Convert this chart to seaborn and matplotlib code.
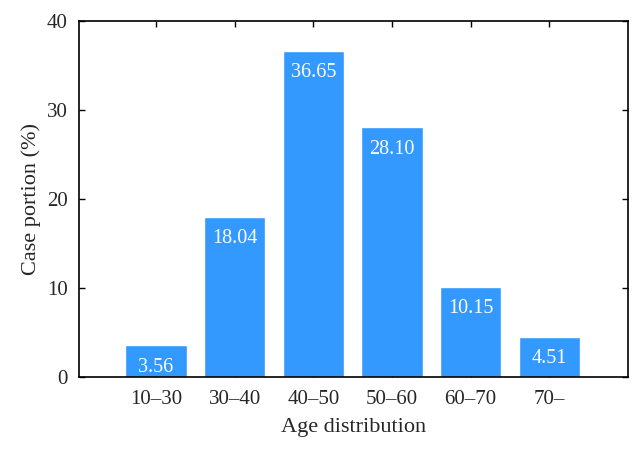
import matplotlib
matplotlib.use("Agg")
import matplotlib.pyplot as plt
import seaborn as sns
import pandas as pd

categories = ["10–30", "30–40", "40–50", "50–60", "60–70", "70–"]
values = [3.56, 18.04, 36.65, 28.10, 10.15, 4.51]
value_labels = ["3.56", "18.04", "36.65", "28.10", "10.15", "4.51"]
yticks = [0, 10, 20, 30, 40]

sns.set_theme(style="ticks")
plt.rcParams['font.family'] = ['Liberation Serif', 'DejaVu Serif']

df = pd.DataFrame({"age": categories, "portion": values})

fig = plt.figure(figsize=(6.42, 4.51), dpi=100)
ax = fig.add_axes([0.123, 0.164, 0.855, 0.789])
sns.barplot(data=df, x="age", y="portion", color="#3399FF", saturation=1,
            width=0.78, ax=ax)

for i, (v, lab) in enumerate(zip(values, value_labels)):
    ax.annotate(lab, (i, v), xytext=(0, -9), textcoords="offset points",
                ha="center", va="top", color="white", fontsize=14.5)

ax.set_ylim(0, 40)
ax.set_xlim(-0.98, 6.0)
ax.set_yticks(yticks)
ax.set_xlabel("Age distribution", fontsize=16, labelpad=7)
ax.set_ylabel("Case portion (%)", fontsize=16, labelpad=4)
ax.tick_params(axis="both", direction="in", top=True, right=True,
               labelsize=15, width=1, length=4, color="black")
ax.tick_params(axis="y", pad=8)
ax.tick_params(axis="x", pad=9)
for s in ax.spines.values():
    s.set_linewidth(1.2)
    s.set_color("black")

fig.savefig("out.png", dpi=100)
